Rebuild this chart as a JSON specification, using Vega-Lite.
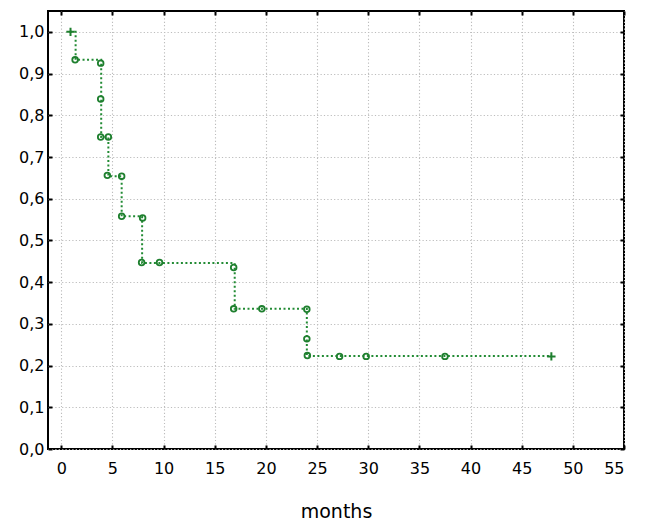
{
  "$schema": "https://vega.github.io/schema/vega-lite/v6.json",
  "autosize": "none",
  "width": 576,
  "height": 438,
  "padding": {"left": 48, "top": 11, "right": 21, "bottom": 73},
  "background": "white",
  "config": {
    "view": {"stroke": "#000000", "strokeWidth": 2},
    "axis": {
      "domain": false,
      "tickColor": "#000000",
      "tickWidth": 2,
      "tickSize": -4,
      "labelFont": "DejaVu Sans",
      "labelFontSize": 16,
      "labelColor": "#000000",
      "titleFont": "DejaVu Sans",
      "titleFontSize": 19,
      "titleFontWeight": "normal",
      "titleColor": "#000000",
      "gridColor": "#bdbdbd",
      "gridDash": [1.2, 2.2],
      "gridWidth": 1.1
    }
  },
  "datasets": {
    "path": [
      {"i": 1, "m": 0.85, "s": 1.0},
      {"i": 2, "m": 1.4, "s": 1.0},
      {"i": 3, "m": 1.4, "s": 0.933},
      {"i": 4, "m": 3.9, "s": 0.933},
      {"i": 5, "m": 3.9, "s": 0.748},
      {"i": 6, "m": 4.6, "s": 0.748},
      {"i": 7, "m": 4.6, "s": 0.654},
      {"i": 8, "m": 5.9, "s": 0.654},
      {"i": 9, "m": 5.9, "s": 0.558},
      {"i": 10, "m": 7.9, "s": 0.558},
      {"i": 11, "m": 7.9, "s": 0.446},
      {"i": 12, "m": 16.95, "s": 0.446},
      {"i": 13, "m": 16.95, "s": 0.336},
      {"i": 14, "m": 24.0, "s": 0.336},
      {"i": 15, "m": 24.0, "s": 0.223},
      {"i": 16, "m": 47.9, "s": 0.223}
    ],
    "events": [
      {"m": 1.35, "s": 0.933},
      {"m": 3.85, "s": 0.925},
      {"m": 3.85, "s": 0.839},
      {"m": 3.85, "s": 0.748},
      {"m": 4.6, "s": 0.748},
      {"m": 4.5, "s": 0.656},
      {"m": 5.9, "s": 0.654},
      {"m": 5.9, "s": 0.558},
      {"m": 7.95, "s": 0.554},
      {"m": 7.85, "s": 0.447},
      {"m": 9.6, "s": 0.447},
      {"m": 16.85, "s": 0.435},
      {"m": 16.85, "s": 0.336},
      {"m": 19.6, "s": 0.336},
      {"m": 24.0, "s": 0.335},
      {"m": 24.0, "s": 0.264},
      {"m": 24.05, "s": 0.224},
      {"m": 27.2, "s": 0.222},
      {"m": 29.8, "s": 0.222},
      {"m": 37.5, "s": 0.222}
    ],
    "censored": [
      {"m": 0.9, "s": 1.0},
      {"m": 47.9, "s": 0.222}
    ]
  },
  "resolve": {"axis": {"x": "independent", "y": "independent"}},
  "layer": [
    {
      "data": {"name": "path"},
      "mark": {"type": "line", "color": "#228b34", "strokeWidth": 2, "strokeDash": [2, 2.5], "interpolate": "linear"},
      "encoding": {
        "x": {
          "field": "m", "type": "quantitative",
          "scale": {"domain": [-1.3, 55], "nice": false, "zero": false},
          "axis": {
            "orient": "bottom",
            "values": [0, 5, 10, 15, 20, 25, 30, 35, 40, 45, 50, 55],
            "grid": true,
            "labelPadding": 15,
            "title": "months",
            "titlePadding": 26
          }
        },
        "y": {
          "field": "s", "type": "quantitative",
          "scale": {"domain": [0, 1.05], "nice": false, "zero": false},
          "axis": {
            "orient": "left",
            "values": [0, 0.1, 0.2, 0.3, 0.4, 0.5, 0.6, 0.7, 0.8, 0.9, 1.0],
            "grid": true,
            "labelPadding": 8,
            "labelExpr": "replace(format(datum.value, '.1f'), '.', ',')",
            "title": null
          }
        },
        "order": {"field": "i", "type": "quantitative"}
      }
    },
    {
      "data": {"name": "events"},
      "mark": {"type": "point", "shape": "circle", "filled": false, "color": "#1e7f2e", "size": 32, "strokeWidth": 1.8, "opacity": 1},
      "encoding": {
        "x": {"field": "m", "type": "quantitative", "axis": null},
        "y": {"field": "s", "type": "quantitative", "axis": null}
      }
    },
    {
      "data": {"name": "censored"},
      "mark": {"type": "point", "shape": "M-1,0L1,0M0,-1L0,1", "filled": false, "color": "#1e7f2e", "size": 70, "strokeWidth": 2, "opacity": 1},
      "encoding": {
        "x": {
          "field": "m", "type": "quantitative",
          "axis": {"orient": "top", "values": [0, 5, 10, 15, 20, 25, 30, 35, 40, 45, 50, 55], "labels": false, "grid": false, "title": null}
        },
        "y": {
          "field": "s", "type": "quantitative",
          "axis": {"orient": "right", "values": [0, 0.1, 0.2, 0.3, 0.4, 0.5, 0.6, 0.7, 0.8, 0.9, 1.0], "labels": false, "grid": false, "title": null}
        }
      }
    }
  ]
}
